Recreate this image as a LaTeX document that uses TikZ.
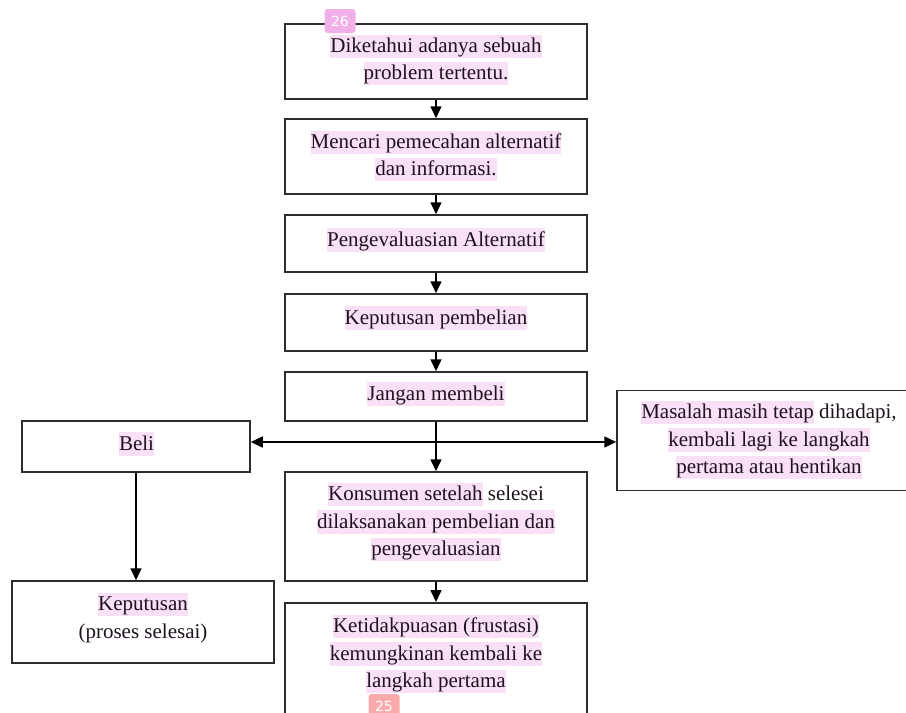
\documentclass[tikz,border=0pt]{standalone}
\usepackage{fontspec}
\setmainfont{Liberation Serif}
\newfontfamily\badgefont{DejaVu Sans}
\usetikzlibrary{arrows.meta}
\definecolor{hlpink}{RGB}{250,224,246}
\definecolor{boxgray}{RGB}{45,45,45}
\definecolor{txt}{RGB}{30,18,30}
\definecolor{badgepink}{RGB}{242,176,232}
\definecolor{badgesalmon}{RGB}{250,170,170}
\newcommand\hlt[1]{{\setlength\fboxsep{0pt}\colorbox{hlpink}{\rule[-0.26em]{0pt}{1.1em}#1}}}
\newcommand\tightlines{\lineskiplimit=-30pt\relax}
\tikzset{
  stepbox/.style={draw=boxgray, line width=1.5pt, rectangle, minimum width=302pt, inner sep=0pt},
  steptext/.style={align=center, text=txt, inner sep=0pt, font=\fontsize{21}{27.5}\selectfont\tightlines},
  arr/.style={draw=black, line width=1.5pt, -{Triangle[length=12pt,width=11pt]}},
  badge/.style={rounded corners=3pt, inner sep=0pt, minimum width=31pt, minimum height=24pt, text=white, font=\badgefont\fontsize{14}{14}\selectfont}
}
\begin{document}
\begin{tikzpicture}[x=1pt,y=-1pt]
\useasboundingbox (0,0) rectangle (906,713);
\fill[white] (0,0) rectangle (906,713);
\clip (0,0) rectangle (906,713);
% boxes
\node[stepbox, minimum height=75pt] (b1) at (436,61.5) {};
\node[stepbox, minimum height=75pt] (b2) at (436,156.5) {};
\node[stepbox, minimum height=57pt] (b3) at (436,243.5) {};
\node[stepbox, minimum height=57pt] (b4) at (436,322.5) {};
\node[stepbox, minimum height=49pt] (b5) at (436,396.5) {};
\node[stepbox, minimum width=228pt, minimum height=51pt] (beli) at (136,446.5) {};
\node[stepbox, minimum width=310pt, minimum height=100pt] (masalah) at (772,440.5) {};
\node[stepbox, minimum height=109pt] (konsumen) at (436,526.5) {};
\node[stepbox, minimum width=262pt, minimum height=82pt] (keputusan) at (143,622) {};
\node[stepbox, minimum height=140pt, anchor=north] (ketidak) at (436,602) {};
% texts
\node[steptext] (t1) at (436,60) {\hlt{Diketahui adanya sebuah}\\\hlt{problem tertentu.}};
\node[steptext] (t2) at (436,156) {\hlt{Mencari pemecahan alternatif}\\\hlt{dan informasi.}};
\node[steptext] (t3) at (436,240) {\hlt{Pengevaluasian Alternatif}};
\node[steptext] (t4) at (436,318) {\hlt{Keputusan pembelian}};
\node[steptext] (t5) at (436,394) {\hlt{Jangan membeli}};
\node[steptext] (tbeli) at (136.5,444) {\hlt{Beli}};
\node[steptext] (tmasalah) at (769,440) {\hlt{Masalah masih tetap} dihadapi,\\\hlt{kembali lagi ke langkah}\\\hlt{pertama atau hentikan}};
\node[steptext] (tkonsumen) at (436,522) {\hlt{Konsumen setelah} selesei\\\hlt{dilaksanakan pembelian dan}\\\hlt{pengevaluasian}};
\node[steptext] (tkeputusan) at (143,618) {\hlt{Keputusan}\\(proses selesai)};
\node[steptext] (tketidak) at (436,654) {\hlt{Ketidakpuasan (frustasi)}\\\hlt{kemungkinan kembali ke}\\\hlt{langkah pertama}};
% page badges
\node[badge, fill=badgepink] (p26) at (340,21) {26};
\node[badge, fill=badgesalmon] (p25) at (384,706) {25};
% connectors
\coordinate (mid) at (436,442);
\draw[arr] (b1) -- (b2);
\draw[arr] (b2) -- (b3);
\draw[arr] (b3) -- (b4);
\draw[arr] (b4) -- (b5);
\draw[arr] (b5) -- (konsumen);
\draw[arr] (mid) -- (beli.east |- mid);
\draw[arr] (mid) -- (masalah.west |- mid);
\draw[arr] (beli.south) -- (beli.south |- keputusan.north);
\draw[arr] (konsumen) -- (ketidak);
\end{tikzpicture}
\end{document}
